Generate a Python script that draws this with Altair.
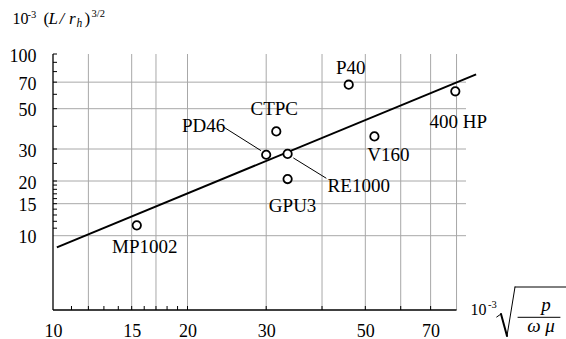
import altair as alt
import pandas as pd

FONT = "'Liberation Serif', 'Times New Roman', Times, serif"

# ---- data ----
names = ["MP1002", "PD46", "CTPC", "RE1000", "GPU3", "P40", "V160", "400 HP"]
xs = [15.4, 30.0, 31.6, 33.5, 33.5, 45.9, 52.4, 79.5]
ys = [11.4, 27.9, 37.5, 28.2, 20.5, 67.8, 35.2, 62.3]

fit_x = [10.2, 88.5]
fit_y = [8.63, 77.3]

leader_x = [24.1, 34.5]
leader_y = [39.6, 26.8]
leader_x2 = [29.2, 40.9]
leader_y2 = [29.4, 20.7]

x_tick_labels = [10, 15, 20, 30, 50, 70]
y_tick_labels = [10, 15, 20, 30, 50, 70, 100]
x_grid = [12, 15, 17, 20, 30, 40, 50, 60, 70, 80]
y_grid = [10, 15, 20, 30, 50, 70]
x_minor = [11, 12, 13, 14, 15, 16, 17, 18, 19, 20, 30, 40, 50, 60, 70]
y_minor = [11, 12, 13, 14, 15, 16, 17, 18, 19, 20, 25, 30, 40, 50, 60, 70, 80, 90, 100]

X_MIN, X_MAX = 10, 84
Y_MIN, Y_MAX = 3.9, 100
X_AXIS_END = 80

W, H = 413, 256

# label offsets (styling)
label_style = {
    "MP1002": dict(dx=8, dy=28, align="center"),
    "PD46": dict(dx=-41, dy=-23, align="right"),
    "CTPC": dict(dx=-2, dy=-16, align="center"),
    "RE1000": dict(dx=40, dy=38, align="left"),
    "GPU3": dict(dx=5, dy=33, align="center"),
    "P40": dict(dx=2, dy=-11, align="center"),
    "V160": dict(dx=14, dy=25, align="center"),
    "400 HP": dict(dx=3, dy=37, align="center"),
}

xscale = alt.Scale(type="log", domain=[X_MIN, X_MAX], nice=False)
yscale = alt.Scale(type="log", domain=[Y_MIN, Y_MAX], nice=False)

x_axis = alt.Axis(values=x_tick_labels, domain=False, ticks=False, grid=False, title=None,
                  labelFont=FONT, labelFontSize=18, labelColor="black", labelPadding=12,
                  labelFlush=False, format="d")
y_axis = alt.Axis(values=y_tick_labels, domain=False, ticks=False, grid=False, title=None,
                  labelFont=FONT, labelFontSize=18, labelColor="black", labelPadding=17,
                  labelBaseline="middle", labelOffset=2, format="d")


def X(f):
    return alt.X(f, type="quantitative", scale=xscale, axis=x_axis)


def Y(f):
    return alt.Y(f, type="quantitative", scale=yscale, axis=y_axis)


pts = pd.DataFrame({"name": names, "x": xs, "y": ys})
dummy = alt.Data(values=[{"a": 1}])

# gridlines
vgrid = alt.Chart(pd.DataFrame({"x": x_grid, "y": [Y_MIN] * len(x_grid), "y2": [Y_MAX] * len(x_grid)})).mark_rule(
    color="#a8a8a8", strokeWidth=1
).encode(x=X("x"), y=Y("y"), y2=alt.Y2("y2"))

hgrid = alt.Chart(pd.DataFrame({"y": y_grid, "x": [X_MIN] * len(y_grid), "x2": [X_MAX] * len(y_grid)})).mark_rule(
    color="#a8a8a8", strokeWidth=1
).encode(y=Y("y"), x=X("x"), x2=alt.X2("x2"))

# axis lines
xaxis_line = alt.Chart(pd.DataFrame({"x": [X_MIN], "x2": [X_AXIS_END], "y": [Y_MIN]})).mark_rule(
    color="black", strokeWidth=1.3
).encode(x=X("x"), x2=alt.X2("x2"), y=Y("y"))
yaxis_line = alt.Chart(pd.DataFrame({"x": [X_MIN], "y": [Y_MIN], "y2": [Y_MAX]})).mark_rule(
    color="black", strokeWidth=1.3
).encode(x=X("x"), y=Y("y"), y2=alt.Y2("y2"))

# minor ticks (inward)
xticks = alt.Chart(pd.DataFrame({"x": x_minor})).mark_rule(color="black", strokeWidth=1).encode(
    x=X("x"), y=alt.value(H), y2=alt.value(H - 4)
)
yticks = alt.Chart(pd.DataFrame({"y": y_minor})).mark_rule(color="black", strokeWidth=1).encode(
    y=Y("y"), x=alt.value(0), x2=alt.value(4)
)

# fit line
fit = alt.Chart(pd.DataFrame({"x": fit_x, "y": fit_y})).mark_line(color="black", strokeWidth=2).encode(
    x=X("x"), y=Y("y")
)

# leader lines
leaders = alt.Chart(
    pd.DataFrame({"x": leader_x, "y": leader_y, "x2": leader_x2, "y2": leader_y2})
).mark_rule(color="black", strokeWidth=1).encode(x=X("x"), y=Y("y"), x2=alt.X2("x2"), y2=alt.Y2("y2"))

points = alt.Chart(pts).mark_point(
    shape="circle", size=70, filled=True, fill="white", stroke="black", strokeWidth=1.8, opacity=1
).encode(x=X("x"), y=Y("y"))

labels = []
for n in names:
    st = label_style[n]
    labels.append(
        alt.Chart(pts).transform_filter(alt.datum.name == n).mark_text(
            font=FONT, fontSize=19, color="black", baseline="alphabetic",
            align=st["align"], dx=st["dx"], dy=st["dy"]
        ).encode(x=X("x"), y=Y("y"), text="name:N")
    )


def txt(s, x, y, size, italic=False, align="left"):
    return alt.Chart(dummy).mark_text(
        text=s, font=FONT, fontSize=size, fontStyle="italic" if italic else "normal",
        align=align, baseline="alphabetic", color="black"
    ).encode(x=alt.value(x), y=alt.value(y))


def seg(x1, y1, x2, y2, w=1):
    return alt.Chart(dummy).mark_rule(color="black", strokeWidth=w, strokeCap="round").encode(
        x=alt.value(x1), y=alt.value(y1), x2=alt.value(x2), y2=alt.value(y2)
    )


annot = [
    # y title: 10^-3 (L/r_h)^3/2
    txt("10", -40.5, -30, 16),
    txt("-3", -25.5, -36.5, 10.5),
    txt("(", -9.5, -30, 17),
    txt("L", -4.5, -30, 17, italic=True),
    txt("/", 6.5, -30, 17, italic=True),
    txt("r", 16, -30, 17, italic=True),
    txt("h", 23.5, -27.5, 11.5, italic=True),
    txt(")", 31.5, -30, 17),
    txt("3/2", 38.5, -37.5, 10.5),
    # x title: 10^-3 sqrt(p / (omega mu))
    txt("10", 417.5, 261, 16),
    txt("-3", 435, 254, 10.5),
    seg(443.7, 263, 448, 260, 1),
    seg(448, 260, 454, 282, 2),
    seg(454, 282, 462, 233, 1),
    seg(462, 233, 513, 233, 1),
    seg(465, 263.3, 507, 263.3, 1),
    txt("p", 493, 257, 19, italic=True, align="center"),
    txt("ω μ", 488, 277.5, 19, italic=True, align="center"),
]

chart = alt.layer(
    vgrid, hgrid, xaxis_line, yaxis_line, xticks, yticks, fit, leaders, points, *labels, *annot
).properties(
    width=W, height=H,
    autosize=alt.AutoSizeParams(type="none"),
    padding={"left": 53, "top": 54, "right": 566 - 53 - W, "bottom": 339 - 54 - H},
    background="white",
).configure_view(stroke=None)

chart.save("out.html", embed_options={"renderer": "svg", "actions": False})
